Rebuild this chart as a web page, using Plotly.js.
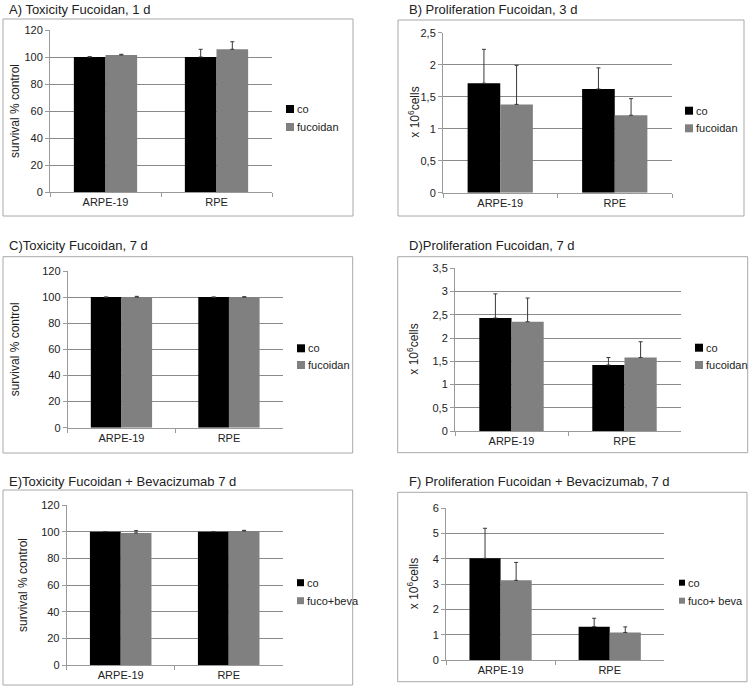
<!DOCTYPE html>
<html>
<head>
<meta charset="utf-8">
<script src="https://cdn.plot.ly/plotly-3.0.1.min.js"></script>
<style>html,body{margin:0;padding:0;background:#fff;}#chart{width:751px;height:693px;}</style>
</head>
<body>
<div id="chart"></div>
<script>
// ---- data ----
const categories = ["ARPE-19", "RPE"];
const seriesColors = ["#000000", "#808080"];

const titleA = "A) Toxicity Fucoidan, 1 d";
const namesA = ["co", "fucoidan"];
const coA = [100, 100];
const coErrA = [0.2, 5.7];
const fucA = [101.5, 105.7];
const fucErrA = [0.5, 5.6];

const titleB = "B) Proliferation Fucoidan, 3 d";
const namesB = ["co", "fucoidan"];
const coB = [1.71, 1.62];
const coErrB = [0.53, 0.33];
const fucB = [1.38, 1.21];
const fucErrB = [0.61, 0.26];

const titleC = "C)Toxicity Fucoidan, 7 d";
const namesC = ["co", "fucoidan"];
const coC = [100, 100];
const coErrC = [0, 0];
const fucC = [100, 100];
const fucErrC = [0.6, 0.3];

const titleD = "D)Proliferation Fucoidan, 7 d";
const namesD = ["co", "fucoidan"];
const coD = [2.43, 1.42];
const coErrD = [0.52, 0.16];
const fucD = [2.35, 1.58];
const fucErrD = [0.51, 0.34];

const titleE = "E)Toxicity Fucoidan + Bevacizumab 7 d";
const namesE = ["co", "fuco+beva"];
const coE = [100, 100];
const coErrE = [0, 0];
const fucE = [99, 100.5];
const fucErrE = [1.8, 0.5];

const titleF = "F) Proliferation Fucoidan + Bevacizumab, 7 d";
const namesF = ["co", "fuco+ beva"];
const coF = [4.02, 1.32];
const coErrF = [1.19, 0.33];
const fucF = [3.15, 1.09];
const fucErrF = [0.71, 0.22];

const yTitleTox = "survival % control";
const yTitleProl = "x 10<sup>6</sup>cells";

// ---- layout helpers ----
const W = 751, H = 693;
const FONT = "Arial, 'Liberation Sans', sans-serif";
const px = v => v / W;
const py = v => 1 - v / H;

const panels = [
  {title: titleA, names: namesA, series: [[coA, coErrA], [fucA, fucErrA]], yTitle: yTitleTox,
   range: [0, 120], dtick: 20, plot: [50, 30, 272, 192], box: [3, 19, 353, 216],
   titlePos: [7, 9], yTitleX: 15, legend: [286, 109, 18, 8]},
  {title: titleB, names: namesB, series: [[coB, coErrB], [fucB, fucErrB]], yTitle: yTitleProl,
   range: [0, 2.5], dtick: 0.5, plot: [443, 32.7, 672, 192.7], box: [398, 20, 744, 216],
   titlePos: [407, 9], yTitleX: 414, legend: [685, 110.7, 17.6, 8]},
  {title: titleC, names: namesC, series: [[coC, coErrC], [fucC, fucErrC]], yTitle: yTitleTox,
   range: [0, 120], dtick: 20, plot: [67.7, 271, 282.7, 427.7], box: [3, 256.7, 352.7, 453],
   titlePos: [7, 245], yTitleX: 15, legend: [297, 348.3, 16.7, 8]},
  {title: titleD, names: namesD, series: [[coD, coErrD], [fucD, fucErrD]], yTitle: yTitleProl,
   range: [0, 3.5], dtick: 0.5, plot: [455, 268.3, 681, 431], box: [397.7, 256.7, 747.7, 452.7],
   titlePos: [407, 245], yTitleX: 413, legend: [695, 347.7, 17.3, 8]},
  {title: titleE, names: namesE, series: [[coE, coErrE], [fucE, fucErrE]], yTitle: yTitleTox,
   range: [0, 120], dtick: 20, plot: [66.7, 505, 282.7, 665], box: [3, 490, 352.7, 685],
   titlePos: [7, 481], yTitleX: 23, legend: [297, 582.7, 18, 7]},
  {title: titleF, names: namesF, series: [[coF, coErrF], [fucF, fucErrF]], yTitle: yTitleProl,
   range: [0, 6], dtick: 1, plot: [446, 508.3, 664.3, 660], box: [397.7, 492.3, 747, 681.7],
   titlePos: [407, 481], yTitleX: 413, legend: [679, 582.7, 18, 6]}
];

const traces = [];
const layout = {
  width: W, height: H,
  margin: {l: 0, r: 0, t: 0, b: 0},
  paper_bgcolor: "#ffffff", plot_bgcolor: "rgba(0,0,0,0)",
  showlegend: false,
  barmode: "group", bargap: 0.43, bargroupgap: 0,
  separators: ", ",
  font: {family: FONT, size: 11, color: "#222"},
  shapes: [], annotations: []
};

panels.forEach((p, i) => {
  const n = i + 1;
  const xa = n === 1 ? "x" : "x" + n;
  const ya = n === 1 ? "y" : "y" + n;
  const xKey = n === 1 ? "xaxis" : "xaxis" + n;
  const yKey = n === 1 ? "yaxis" : "yaxis" + n;
  p.series.forEach((s, k) => {
    traces.push({
      type: "bar", x: categories, y: s[0], name: p.names[k],
      xaxis: xa, yaxis: ya,
      marker: {color: seriesColors[k], line: {width: 0}},
      error_y: {type: "data", symmetric: false, array: s[1], arrayminus: s[1].map(() => 0),
                color: "#383838", thickness: 1, width: 2},
      hoverinfo: "x+y+name"
    });
  });
  const [x0, y0, x1, y1] = p.plot;
  layout[xKey] = {
    domain: [px(x0), px(x1)], anchor: ya,
    showline: true, linecolor: "#9a9a9a", linewidth: 1,
    ticks: "outside", tickson: "boundaries", ticklen: 4, tickcolor: "#9a9a9a",
    showgrid: false, zeroline: false, fixedrange: true,
    tickfont: {family: FONT, size: 11, color: "#222"}
  };
  layout[yKey] = {
    domain: [py(y1), py(y0)], anchor: xa,
    range: p.range, dtick: p.dtick, tick0: 0,
    showline: true, linecolor: "#9a9a9a", linewidth: 1,
    ticks: "outside", ticklen: 4, tickcolor: "#9a9a9a",
    showgrid: true, gridcolor: "#8a8a8a", gridwidth: 1,
    zeroline: false, fixedrange: true,
    tickfont: {family: FONT, size: 11, color: "#222"}
  };
  // panel frame
  const [bx0, by0, bx1, by1] = p.box;
  layout.shapes.push({type: "rect", xref: "paper", yref: "paper",
    x0: px(bx0), x1: px(bx1), y0: py(by1), y1: py(by0),
    line: {color: "#a8a8a8", width: 1}, fillcolor: "rgba(0,0,0,0)", layer: "below"});
  // panel title
  layout.annotations.push({xref: "paper", yref: "paper", x: px(p.titlePos[0]), y: py(p.titlePos[1]),
    xanchor: "left", yanchor: "middle", showarrow: false, text: p.title,
    font: {family: FONT, size: 13, color: "#222"}});
  // y-axis title
  layout.annotations.push({xref: "paper", yref: "paper", x: px(p.yTitleX), y: py((y0 + y1) / 2),
    xanchor: "center", yanchor: "middle", showarrow: false, textangle: -90, text: p.yTitle,
    font: {family: FONT, size: 12, color: "#222"}});
  // legend (swatch + label)
  const [lx, ly, lgap, ls] = p.legend;
  p.names.forEach((nm, k) => {
    const cy = ly + k * lgap;
    layout.shapes.push({type: "rect", xref: "paper", yref: "paper",
      x0: px(lx), x1: px(lx + ls), y0: py(cy + ls / 2), y1: py(cy - ls / 2),
      line: {width: 0}, fillcolor: seriesColors[k]});
    layout.annotations.push({xref: "paper", yref: "paper", x: px(lx + ls + 1), y: py(cy),
      xanchor: "left", yanchor: "middle", showarrow: false, text: nm,
      font: {family: FONT, size: 11, color: "#222"}});
  });
});

Plotly.newPlot("chart", traces, layout, {displayModeBar: false, staticPlot: true});
</script>
</body>
</html>
